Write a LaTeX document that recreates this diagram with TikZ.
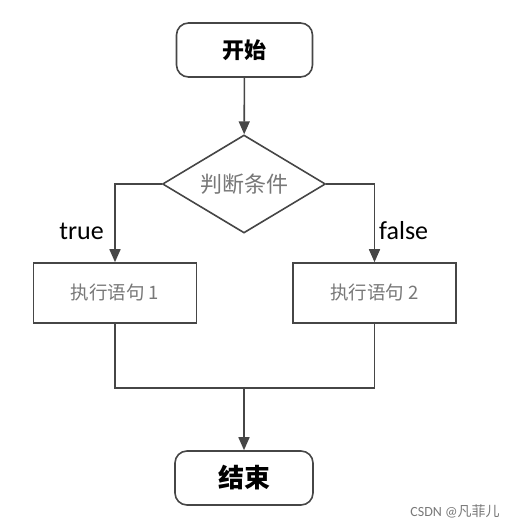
\documentclass[tikz,border=0pt]{standalone}
\usepackage{fontspec}
\setmainfont{Carlito}
\newfontfamily\cjk{Noto Sans CJK SC}
\usetikzlibrary{shapes.geometric,arrows.meta}
\definecolor{ln}{RGB}{70,70,70}
\definecolor{tx}{RGB}{120,120,120}
\tikzset{
  base/.style={draw=ln, line width=1.6pt, inner sep=0pt, fill=white},
  term/.style={base, rounded corners=12pt, minimum width=136pt, minimum height=54pt,
    font=\cjk\bfseries\fontsize{22}{22}\selectfont, text=black},
  proc/.style={base, minimum width=163pt, minimum height=60pt,
    font=\cjk\fontsize{18.5}{18.5}\selectfont, text=tx},
  dec/.style={base, diamond, aspect=1.66, minimum width=163pt, minimum height=98pt,
    font=\cjk\fontsize{22}{22}\selectfont, text=tx},
  lbl/.style={font=\fontsize{26}{26}\selectfont, text=black, inner sep=0pt},
  conn/.style={draw=ln, line width=1.6pt},
  arr/.style={conn, -{Triangle[width=11pt,length=13pt]}},
}
\begin{document}
\begin{tikzpicture}[x=1pt,y=-1pt]
\useasboundingbox (0,0) rectangle (520,526);
\node[term] (start) at (244.5,50) {开始};
\node[dec] (cond) at (244,184) {判断条件};
\node[proc] (p1) at (115,293) {执行语句 1};
\node[proc] (p2) at (374.5,293) {执行语句 2};
\node[term, minimum width=138pt, font=\cjk\bfseries\fontsize{26}{26}\selectfont] (end) at (244,478) {结束};
\coordinate (j) at (244,388);
\draw[arr] (start) -- (cond);
\draw[arr] (cond.west) -| (p1.north);
\draw[arr] (cond.east) -| (p2.north);
\draw[conn] (p1.south) |- (j) -| (p2.south);
\draw[arr] (j) -- (end);
\node[lbl, anchor=east] (tl) at (104,231) {true};
\node[lbl, anchor=west] (fl) at (379,231) {false};
\node[inner sep=0pt, text=tx, font=\fontsize{14}{14}\selectfont] (wm) at (455,511) {CSDN @{\cjk 凡菲儿}};
\end{tikzpicture}
\end{document}
